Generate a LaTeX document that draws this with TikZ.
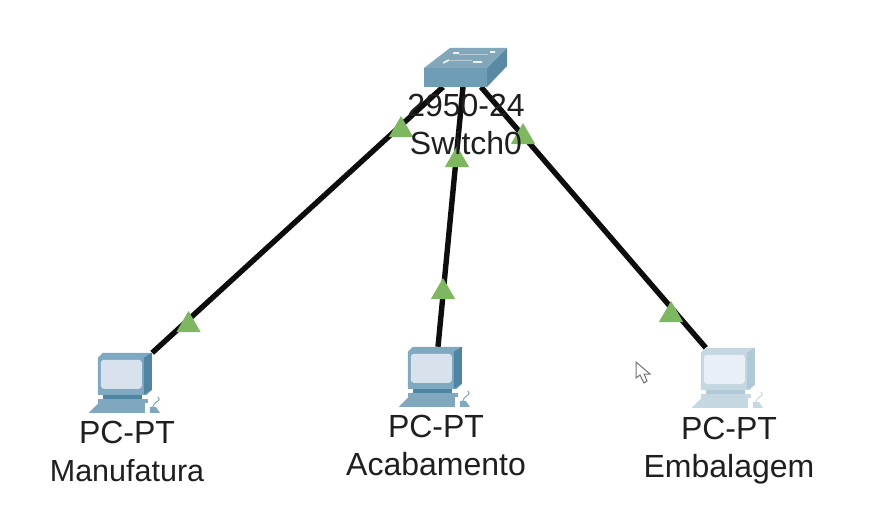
\documentclass[tikz,border=0pt]{standalone}
\usepackage{fontspec}
\setmainfont{Liberation Sans}
\usetikzlibrary{arrows.meta, positioning, shapes.geometric}

\definecolor{linkgreen}{HTML}{7DB860}
\definecolor{swtop}{HTML}{82A6BA}
\definecolor{swfront}{HTML}{6E9DB5}
\definecolor{swside}{HTML}{5A8AA3}
\definecolor{pcframe}{HTML}{7FA9C0}
\definecolor{pcside}{HTML}{4F84A3}
\definecolor{pcscreen}{HTML}{D7E2EC}
\definecolor{pckeys}{HTML}{7FA8BF}
\definecolor{paleframe}{HTML}{C5D8E2}
\definecolor{paleside}{HTML}{AFC9D6}
\definecolor{palescreen}{HTML}{E8EFF6}
\tikzset{
    link/.style={line width=5.4pt, black!95},
    updown/.style={regular polygon, regular polygon sides=3, fill=linkgreen, minimum size=28pt, inner sep=0pt},
    lbl/.style={font=\fontsize{32}{34}\selectfont, text=black!88, inner sep=0pt, text height=22pt, text depth=6pt},
    pcbox/.style={minimum width=54pt, minimum height=42pt, inner sep=0pt},
    swbox/.style={minimum width=83pt, minimum height=39pt, inner sep=0pt},
    pics/pcicon/.style n args={4}{code={
        % monitor, origin at the top left corner
        \fill[#1] (0,5) -- (5,0) -- (54,0) -- (54,37) -- (49,42) -- (0,42) -- cycle;
        \fill[#2] (46,5) -- (54,0) -- (54,37) -- (46,42) -- cycle;
        \fill[#3, rounded corners=3pt] (3,7) rectangle (44,36);
        \fill[#2] (5,42) rectangle (44,46);
        \fill[#1] (0,46) rectangle (50,50);
        % keyboard and mouse
        \fill[#4] (-9,60) -- (1,50) -- (47,50) -- (47,60) -- cycle;
        \fill[#4] (52,54) -- (58,54) -- (62,60) -- (52,60) -- cycle;
        \draw[#4, line width=1pt] (55,54) .. controls (58,46) and (64,50) .. (60,44);
    }},
}

\begin{document}
\begin{tikzpicture}[x=1pt, y=-1pt]
    \useasboundingbox[fill=white] (0,0) rectangle (885,519);

    \node[swbox] (sw) at (465.5,67.5) {};
    \node[pcbox] (manu) at (125,374) {};
    \node[pcbox] (acab) at (435,368) {};
    \node[pcbox] (emba) at (728,369) {};

    \coordinate (swa) at (443,87);
    \coordinate (swb) at (463,87);
    \coordinate (swc) at (481,87);

    \draw[link] (swa) -- (manu.north east);
    \draw[link] (swb) -- ([xshift=3pt]acab.north);
    \draw[link] (swc) -- ([xshift=5pt]emba.north west);

    % switch
    \fill[swtop] (424,68) -- (450,48) -- (507,48) -- (487,68) -- cycle;
    \fill[swfront] (424,68) rectangle (487,87);
    \fill[swside] (487,68) -- (507,48) -- (507,66) -- (487,87) -- cycle;
    \draw[white!85!swtop, line width=1.6pt] (443,63) -- (449,60) (473,62) -- (482,62) (453,53) -- (459,53) (490,52) -- (495,52);
    \draw[white!40!swtop, line width=.8pt] (449,60) -- (472,60) (459,54) -- (488,54);

    \pic at (manu.north west) {pcicon={pcframe}{pcside}{pcscreen}{pckeys}};
    \pic at (acab.north west) {pcicon={pcframe}{pcside}{pcscreen}{pckeys}};
    \pic at (emba.north west) {pcicon={paleframe}{paleside}{palescreen}{paleframe}};

    \node[updown] (tria) at (401,130) {};
    \node[updown] (trib) at (457,160) {};
    \node[updown] (tric) at (523,137) {};
    \node[updown] (trid) at (188.5,325) {};
    \node[updown] (trie) at (443,292) {};
    \node[updown] (trif) at (671,315) {};

    \node[lbl] (swtype) at (466,108) {2950-24};
    \node[lbl, below=10pt of swtype] (swname) {Switch0};

    \node[lbl] (manutype) at (127,435) {PC-PT};
    \node[lbl, below=10pt of manutype, font=\fontsize{30.5}{34}\selectfont] (manuname) {Manufatura};
    \node[lbl] (acabtype) at (436,429) {PC-PT};
    \node[lbl, below=10pt of acabtype] (acabname) {Acabamento};
    \node[lbl] (embatype) at (729,431) {PC-PT};
    \node[lbl, below=10pt of embatype] (embaname) {Embalagem};

    % mouse pointer
    \draw[black!55, fill=white, line width=1pt] (636,362) -- (636,378) -- (640,375) -- (644,383) -- (647,381) -- (644,374) -- (650,374) -- cycle;
\end{tikzpicture}
\end{document}
